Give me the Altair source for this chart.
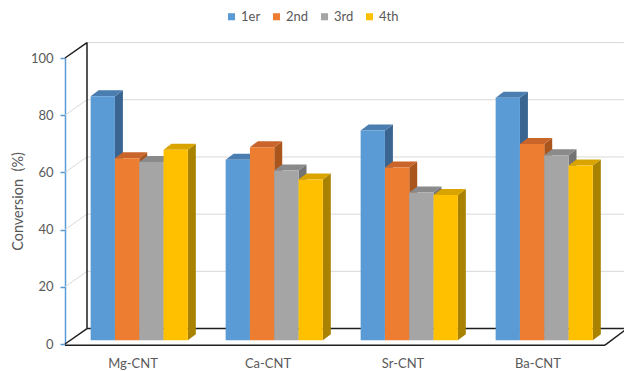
import altair as alt
import pandas as pd

# ---- data -------------------------------------------------------------
categories = ["Mg-CNT", "Ca-CNT", "Sr-CNT", "Ba-CNT"]
series = ["1er", "2nd", "3rd", "4th"]
conv_1er = [85.3, 63.1, 73.3, 84.8]
conv_2nd = [63.6, 67.5, 60.4, 68.6]
conv_3rd = [62.3, 59.3, 51.6, 64.7]
conv_4th = [66.6, 56.2, 50.8, 61.1]
y_ticks = [0, 20, 40, 60, 80, 100]

# ---- styling ----------------------------------------------------------
front_colors = ["#5B9BD5", "#ED7D31", "#A5A5A5", "#FFC000"]
top_colors = ["#4A7DB0", "#C9652A", "#8A8A8A", "#D9A400"]
side_colors = ["#3A6590", "#A9551C", "#737373", "#A88200"]
FONT = "Lato"
TEXT = "#595959"
GRID = "#D9D9D9"
EDGE = "#1E1E1E"

# oblique projection: depth offsets in category units (x) and value units (y)
WALL_DX, WALL_DY = 0.163, 5.4      # back wall relative to front plane
BAR_SHIFT_X, BAR_SHIFT_Y = 0.05, 1.33  # bar front face relative to front plane
BAR_DX, BAR_DY = 0.059, 2.1        # bar depth
BAR_W = 0.18
X_MAX = 4.14                       # back wall runs off the right edge

values = [conv_1er, conv_2nd, conv_3rd, conv_4th]

fronts, sides, tops = [], [], []
for i, cat in enumerate(categories):
    for j, s in enumerate(series):
        v = values[j][i]
        bar = f"{cat}-{s}"
        xl = i + 0.5 + BAR_SHIFT_X - 2 * BAR_W + j * BAR_W
        xr = xl + BAR_W
        y0 = BAR_SHIFT_Y
        y1 = v + BAR_SHIFT_Y
        fronts.append(dict(bar=bar, series=s, xl=xl, xr=xr, y0=y0, y1=y1, value=v))
        sides.append(dict(bar=bar, x=xr, lo=y0, hi=y1, fill=side_colors[j]))
        sides.append(dict(bar=bar, x=xr + BAR_DX, lo=y0 + BAR_DY, hi=y1 + BAR_DY,
                          fill=side_colors[j]))
        tops.append(dict(bar=bar, y=y1, xa=xl, xb=xr, fill=top_colors[j]))
        tops.append(dict(bar=bar, y=y1 + BAR_DY, xa=xl + BAR_DX, xb=xr + BAR_DX,
                         fill=top_colors[j]))

fronts = pd.DataFrame(fronts)
sides = pd.DataFrame(sides)
tops = pd.DataFrame(tops)

# wall gridlines, side-wall diagonals and floor edges
lines = []
for t in y_ticks:
    dark = t == 0
    lines.append(dict(x=WALL_DX, x2=X_MAX, y=t + WALL_DY, y2=t + WALL_DY,
                      stroke=EDGE if dark else GRID, w=1.5 if dark else 1.0))
    dark_diag = t in (0, 100)
    lines.append(dict(x=0, x2=WALL_DX, y=t, y2=t + WALL_DY,
                      stroke=EDGE if dark_diag else GRID, w=1.5 if dark_diag else 1.0))
lines.append(dict(x=WALL_DX, x2=WALL_DX, y=WALL_DY, y2=100 + WALL_DY, stroke=EDGE, w=1.5))
lines.append(dict(x=0, x2=4, y=-0.4, y2=-0.4, stroke=EDGE, w=1.5))
lines.append(dict(x=4, x2=4 + WALL_DX, y=-0.4, y2=WALL_DY, stroke=EDGE, w=1.5))
lines = pd.DataFrame(lines)

# ---- scales & axes ----------------------------------------------------
x_scale = alt.Scale(domain=[0, 4], nice=False, zero=False)
y_scale = alt.Scale(domain=[0, 100], nice=False, zero=False)

label_expr = "[" + ",".join(f"'{c}'" for c in categories) + "][floor(datum.value)]"
x_axis = alt.Axis(values=[i + 0.5 for i in range(len(categories))], labelExpr=label_expr,
                  domain=False, ticks=False, grid=False, title=None,
                  labelFont=FONT, labelFontSize=13, labelColor=TEXT, labelPadding=13)
y_axis = alt.Axis(values=y_ticks, grid=False, domainColor="#5B9BD5", tickColor="#5B9BD5",
                  domainWidth=1.5, tickWidth=1.5, tickSize=5, labelPadding=7,
                  labelFont=FONT, labelFontSize=13, labelColor=TEXT,
                  title="Conversion \u00a0(%)", titleFont=FONT, titleFontSize=14.5,
                  titleFontWeight="normal", titleColor=TEXT, titlePadding=5)

frame = alt.Chart(lines).mark_rule().encode(
    x=alt.X("x:Q", scale=x_scale, axis=x_axis),
    x2="x2:Q",
    y=alt.Y("y:Q", scale=y_scale, axis=y_axis),
    y2="y2:Q",
    color=alt.Color("stroke:N", scale=None),
    strokeWidth=alt.StrokeWidth("w:Q", scale=None),
)

side_faces = alt.Chart(sides).mark_area(strokeWidth=0).encode(
    x=alt.X("x:Q", scale=x_scale, axis=x_axis),
    y=alt.Y("hi:Q", scale=y_scale, axis=y_axis, stack=None),
    y2="lo:Q",
    detail="bar:N",
    color=alt.Color("fill:N", scale=None),
)

top_faces = alt.Chart(tops).mark_area(orient="horizontal", strokeWidth=0).encode(
    y=alt.Y("y:Q", scale=y_scale, axis=y_axis),
    x=alt.X("xa:Q", scale=x_scale, axis=x_axis, stack=None),
    x2="xb:Q",
    detail="bar:N",
    color=alt.Color("fill:N", scale=None),
)

front_faces = alt.Chart(fronts).mark_rect().encode(
    x=alt.X("xl:Q", scale=x_scale, axis=x_axis),
    x2="xr:Q",
    y=alt.Y("y1:Q", scale=y_scale, axis=y_axis),
    y2="y0:Q",
    color=alt.Color(
        "series:N",
        scale=alt.Scale(domain=series, range=front_colors),
        legend=alt.Legend(orient="none", direction="horizontal", legendX=160, legendY=-48,
                          title=None, symbolType="square", symbolSize=50,
                          symbolStrokeWidth=0, labelFont=FONT, labelFontSize=13,
                          labelColor=TEXT, labelOffset=3, columnPadding=9),
    ),
    tooltip=["series:N", "value:Q"],
)

chart = (
    alt.layer(frame, side_faces, top_faces, front_faces)
    .resolve_scale(color="independent")
    .properties(
        width=540,
        height=286,
        padding={"left": 65, "top": 58, "right": 19, "bottom": 27},
        autosize=alt.AutoSizeParams(type="none"),
        background="white",
    )
    .configure_view(stroke=None)
)

chart.save("out.html", embed_options={"renderer": "svg", "actions": False})
